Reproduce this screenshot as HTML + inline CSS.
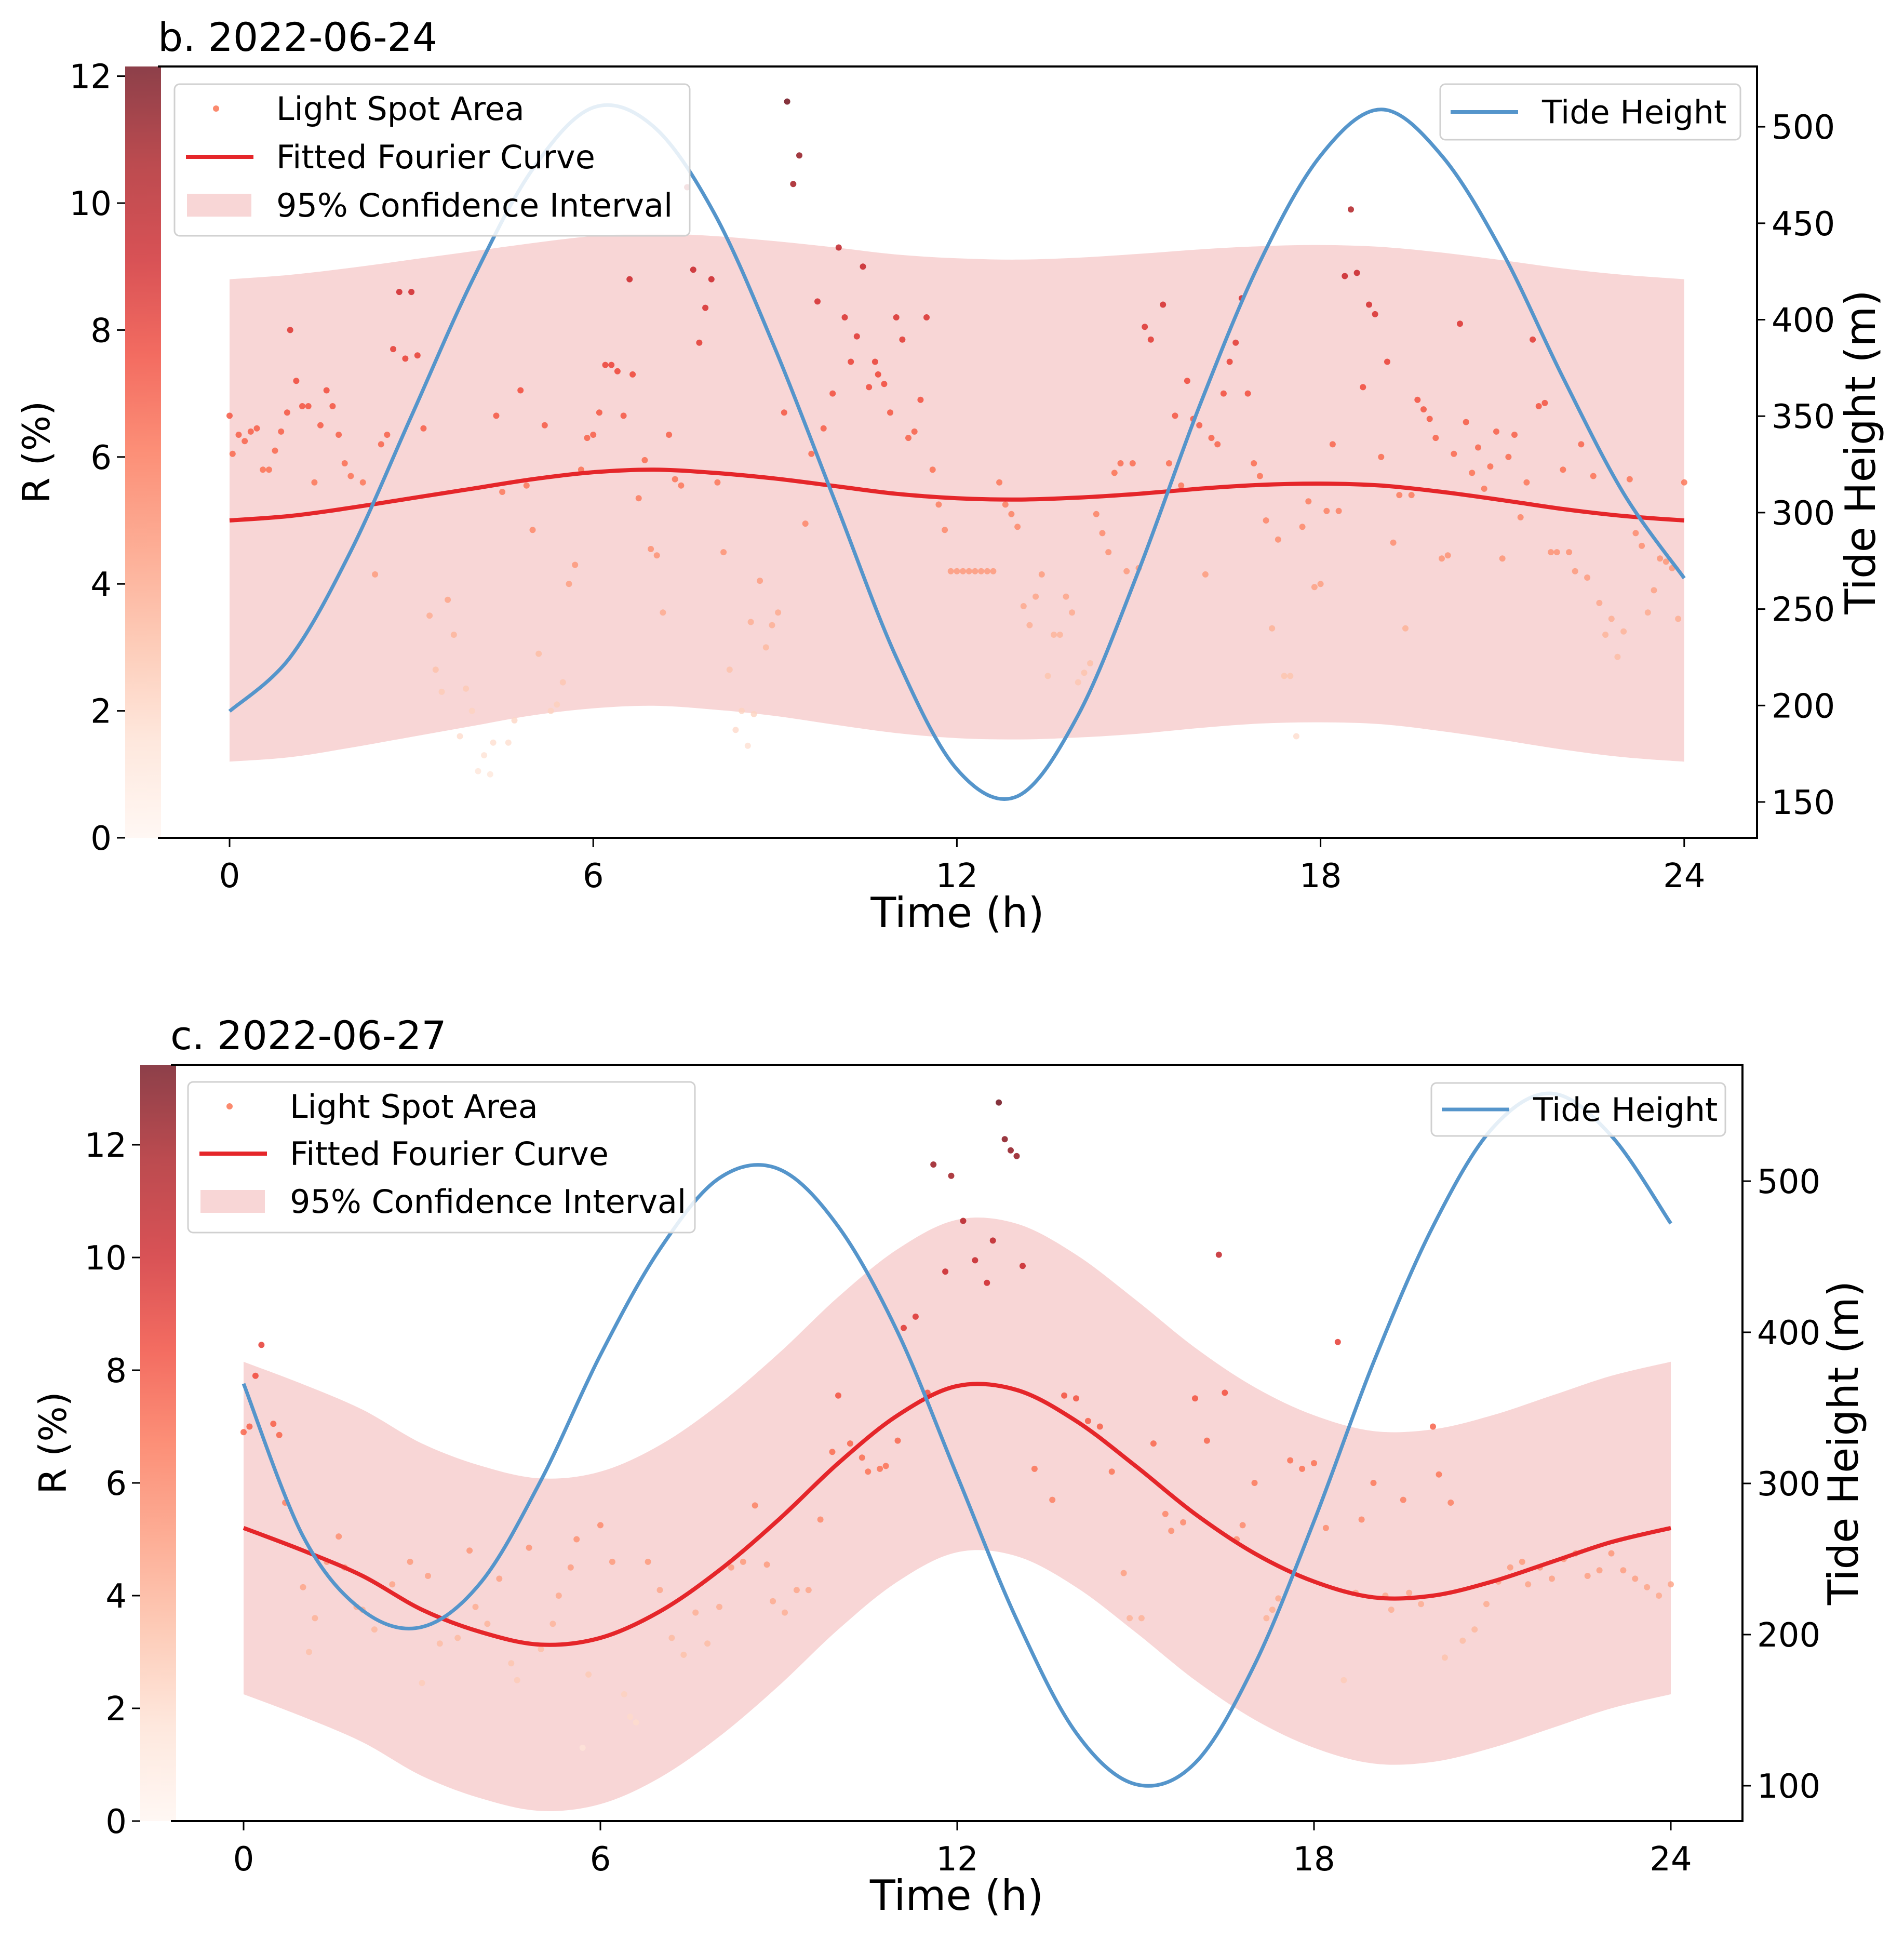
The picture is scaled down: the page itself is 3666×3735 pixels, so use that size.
<!DOCTYPE html>
<html><head><meta charset="utf-8"><title>Tide and light spot area</title>
<style>
html,body{margin:0;padding:0;background:#fff;}
svg text{font-family:"DejaVu Sans","Liberation Sans",sans-serif;fill:#000;}
</style></head>
<body>
<svg id="fig" xmlns="http://www.w3.org/2000/svg" width="3666" height="3730" viewBox="0 0 3666 3730">
<defs>
<linearGradient id="cbar" x1="0" y1="1" x2="0" y2="0">
<stop offset="0" stop-color="#fff5f0"/><stop offset="0.125" stop-color="#fee0d2"/>
<stop offset="0.25" stop-color="#fcbba1"/><stop offset="0.375" stop-color="#fc9272"/>
<stop offset="0.5" stop-color="#fb6a4a"/><stop offset="0.625" stop-color="#ef3b2c"/>
<stop offset="0.75" stop-color="#cb181d"/><stop offset="0.875" stop-color="#a50f15"/>
<stop offset="1" stop-color="#67000d"/>
</linearGradient>
</defs>
</svg>
<script>
// ---------- DATA: panel b (2022-06-24) ----------
const hoursB = [0,1,2,3,4,5,6,7,8,9,10,11,12,13,14,15,16,17,18,19,20,21,22,23,24];
const tideB = [197,225,280,350,420,478,510,500,455,385,305,225,167,153,195,270,355,430,485,509,485,435,370,310,266];
const fitB = [5.0,5.07,5.2,5.35,5.5,5.65,5.76,5.8,5.75,5.66,5.54,5.42,5.35,5.33,5.36,5.42,5.5,5.56,5.58,5.55,5.45,5.32,5.18,5.07,5.0];
const ciHalfB = [3.8,3.8,3.78,3.76,3.74,3.72,3.72,3.72,3.73,3.74,3.76,3.77,3.78,3.78,3.78,3.78,3.77,3.76,3.76,3.76,3.77,3.78,3.79,3.8,3.8];
const ptsTB = [0,0.05,0.15,0.25,0.35,0.45,0.55,0.65,0.75,0.85,0.95,1.0,1.1,1.2,1.3,1.4,1.5,1.6,1.7,1.8,1.9,2.0,2.2,2.4,2.5,2.6,2.7,2.8,2.9,3.0,3.1,3.2,3.3,3.4,3.5,3.6,3.7,3.8,3.9,4.0,4.1,4.2,4.3,4.35,4.4,4.5,4.6,4.7,4.8,4.9,5.0,5.1,5.2,5.3,5.4,5.5,5.6,5.7,5.8,5.9,6.0,6.1,6.2,6.3,6.4,6.5,6.6,6.65,6.75,6.85,6.95,7.05,7.15,7.25,7.35,7.45,7.55,7.65,7.75,7.85,7.95,8.05,8.15,8.25,8.35,8.45,8.55,8.6,8.65,8.75,8.85,8.95,9.05,9.15,9.2,9.3,9.4,9.5,9.6,9.7,9.8,9.95,10.05,10.15,10.25,10.35,10.45,10.55,10.65,10.7,10.8,10.9,11.0,11.1,11.2,11.3,11.4,11.5,11.6,11.7,11.8,11.9,12.0,12.1,12.2,12.3,12.4,12.5,12.6,12.7,12.8,12.9,13.0,13.1,13.2,13.3,13.4,13.5,13.6,13.7,13.8,13.9,14.0,14.1,14.2,14.3,14.4,14.5,14.6,14.7,14.8,14.9,15.0,15.1,15.2,15.4,15.5,15.6,15.7,15.8,15.9,16.0,16.1,16.2,16.3,16.4,16.5,16.6,16.7,16.8,16.9,17.0,17.1,17.2,17.3,17.4,17.5,17.6,17.7,17.8,17.9,18.0,18.1,18.2,18.3,18.4,18.5,18.6,18.7,18.8,18.9,19.0,19.1,19.2,19.3,19.4,19.5,19.6,19.7,19.8,19.9,20.0,20.1,20.2,20.3,20.4,20.5,20.6,20.7,20.8,20.9,21.0,21.1,21.2,21.3,21.4,21.5,21.6,21.7,21.8,21.9,22.0,22.1,22.2,22.3,22.4,22.5,22.6,22.7,22.8,22.9,23.0,23.1,23.2,23.3,23.4,23.5,23.6,23.7,23.8,23.9,24.0];
const ptsVB = [6.65,6.05,6.35,6.25,6.4,6.45,5.8,5.8,6.1,6.4,6.7,8.0,7.2,6.8,6.8,5.6,6.5,7.05,6.8,6.35,5.9,5.7,5.6,4.15,6.2,6.35,7.7,8.6,7.55,8.6,7.6,6.45,3.5,2.65,2.3,3.75,3.2,1.6,2.35,2.0,1.05,1.3,1.0,1.5,6.65,5.45,1.5,1.85,7.05,5.55,4.85,2.9,6.5,2.0,2.1,2.45,4.0,4.3,5.8,6.3,6.35,6.7,7.45,7.45,7.35,6.65,8.8,7.3,5.35,5.95,4.55,4.45,3.55,6.35,5.65,5.55,10.25,8.95,7.8,8.35,8.8,5.6,4.5,2.65,1.7,2.0,1.45,3.4,1.95,4.05,3.0,3.35,3.55,6.7,11.6,10.3,10.75,4.95,6.05,8.45,6.45,7.0,9.3,8.2,7.5,7.9,9.0,7.1,7.5,7.3,7.15,6.7,8.2,7.85,6.3,6.4,6.9,8.2,5.8,5.25,4.85,4.2,4.2,4.2,4.2,4.2,4.2,4.2,4.2,5.6,5.25,5.1,4.9,3.65,3.35,3.8,4.15,2.55,3.2,3.2,3.8,3.55,2.45,2.6,2.75,5.1,4.8,4.5,5.75,5.9,4.2,5.9,4.25,8.05,7.85,8.4,5.9,6.65,5.55,7.2,6.6,6.5,4.15,6.3,6.2,7.0,7.5,7.8,8.5,7.0,5.9,5.7,5.0,3.3,4.7,2.55,2.55,1.6,4.9,5.3,3.95,4.0,5.15,6.2,5.15,8.85,9.9,8.9,7.1,8.4,8.25,6.0,7.5,4.65,5.4,3.3,5.4,6.9,6.75,6.6,6.3,4.4,4.45,6.05,8.1,6.55,5.75,6.15,5.5,5.85,6.4,4.4,6.0,6.35,5.05,5.6,7.85,6.8,6.85,4.5,4.5,5.8,4.5,4.2,6.2,4.1,5.7,3.7,3.2,3.45,2.85,3.25,5.65,4.8,4.6,3.55,3.9,4.4,4.35,4.25,3.45,5.6];

// ---------- DATA: panel c (2022-06-27) ----------
const hoursC = [0,1,2,3,4,5,6,7,8,9,10,11,12,13,14,15,16,17,18,19,20,21,22,23,24];
const tideC = [366,265,216,205,235,302,385,455,502,508,470,400,305,210,135,101,115,180,275,380,470,535,558,530,472];
const fitC = [5.2,4.8,4.35,3.75,3.35,3.13,3.25,3.72,4.45,5.35,6.35,7.2,7.72,7.65,7.1,6.3,5.45,4.75,4.25,3.97,4.0,4.25,4.6,4.95,5.2];
const ciHalfC = [2.95,2.95,2.95,2.95,2.95,2.95,2.95,2.95,2.95,2.95,2.95,2.95,2.95,2.95,2.95,2.95,2.95,2.95,2.95,2.95,2.95,2.95,2.95,2.95,2.95];
const ptsTC = [0,0.1,0.2,0.3,0.5,0.6,0.7,1.0,1.1,1.2,1.4,1.6,1.7,1.9,2.0,2.2,2.5,2.8,3.0,3.1,3.3,3.4,3.6,3.8,3.9,4.1,4.3,4.5,4.6,4.8,5.0,5.2,5.3,5.5,5.6,5.7,5.8,6.0,6.2,6.4,6.5,6.6,6.8,7.0,7.2,7.4,7.6,7.8,8.0,8.2,8.4,8.6,8.8,8.9,9.1,9.3,9.5,9.7,9.9,10.0,10.2,10.4,10.5,10.7,10.8,11.0,11.1,11.3,11.5,11.6,11.8,11.9,12.1,12.3,12.5,12.6,12.7,12.8,12.9,13.0,13.1,13.3,13.6,13.8,14.0,14.2,14.4,14.6,14.8,14.9,15.1,15.3,15.5,15.6,15.8,16.0,16.2,16.4,16.5,16.7,16.8,17.0,17.2,17.3,17.4,17.6,17.8,18.0,18.2,18.4,18.5,18.7,18.8,19.0,19.2,19.3,19.5,19.6,19.8,20.0,20.1,20.2,20.3,20.5,20.7,20.9,21.1,21.3,21.5,21.6,21.8,22.0,22.2,22.4,22.6,22.8,23.0,23.2,23.4,23.6,23.8,24.0];
const ptsVC = [6.9,7.0,7.9,8.45,7.05,6.85,5.65,4.15,3.0,3.6,4.6,5.05,4.5,3.8,3.75,3.4,4.2,4.6,2.45,4.35,3.15,3.6,3.25,4.8,3.8,3.5,4.3,2.8,2.5,4.85,3.05,3.5,4.0,4.5,5.0,1.3,2.6,5.25,4.6,2.25,1.85,1.75,4.6,4.1,3.25,2.95,3.7,3.15,3.8,4.5,4.6,5.6,4.55,3.9,3.7,4.1,4.1,5.35,6.55,7.55,6.7,6.45,6.2,6.25,6.3,6.75,8.75,8.95,7.6,11.65,9.75,11.45,10.65,9.95,9.55,10.3,12.75,12.1,11.9,11.8,9.85,6.25,5.7,7.55,7.5,7.1,7.0,6.2,4.4,3.6,3.6,6.7,5.45,5.15,5.3,7.5,6.75,10.05,7.6,5.0,5.25,6.0,3.6,3.75,3.95,6.4,6.25,6.35,5.2,8.5,2.5,4.05,5.35,6.0,4.0,3.75,5.7,4.05,3.85,7.0,6.15,2.9,5.65,3.2,3.4,3.85,4.25,4.5,4.6,4.2,4.5,4.3,4.65,4.75,4.35,4.45,4.75,4.45,4.3,4.15,4.0,4.2];

// ---------- tick labels ----------
const xTicks = [0,6,12,18,24];
const rTicksB = [0,2,4,6,8,10,12];
const tideTicksB = [150,200,250,300,350,400,450,500];
const rTicksC = [0,2,4,6,8,10,12];
const tideTicksC = [100,200,300,400,500];

// ---------- rendering ----------
const NS = 'http://www.w3.org/2000/svg';
const svg = document.getElementById('fig');
function mk(tag, attrs, parent){ const e=document.createElementNS(NS,tag); for(const k in attrs) e.setAttribute(k,attrs[k]); (parent||svg).appendChild(e); return e; }
const stops=[[255,245,240],[254,224,210],[252,187,161],[252,146,114],[251,106,74],[239,59,44],[203,24,29],[165,15,21],[103,0,13]];
function reds(f){ f=Math.max(0,Math.min(1,f)); const p=f*8, i=Math.min(7,Math.floor(p)), r=p-i; const a=stops[i], b=stops[i+1]; return 'rgb('+a.map((v,k)=>Math.round(v+(b[k]-v)*r)).join(',')+')'; }
function smooth(pts){ let d='M'+pts[0][0].toFixed(1)+','+pts[0][1].toFixed(1);
  for(let i=0;i<pts.length-1;i++){ const p0=pts[Math.max(0,i-1)],p1=pts[i],p2=pts[i+1],p3=pts[Math.min(pts.length-1,i+2)];
    const c1=[p1[0]+(p2[0]-p0[0])/6,p1[1]+(p2[1]-p0[1])/6], c2=[p2[0]-(p3[0]-p1[0])/6,p2[1]-(p3[1]-p1[1])/6];
    d+='C'+c1.map(v=>v.toFixed(1))+' '+c2.map(v=>v.toFixed(1))+' '+p2[0].toFixed(1)+','+p2[1].toFixed(1);} return d; }

function panel(cfg){
  const g = mk('g',{});
  
  
  const X=t=>cfg.x0+t*cfg.xs, YR=v=>cfg.y0-v*cfg.ys, YT=m=>cfg.tY0-(m-cfg.tBase)*cfg.ts;
  const cb=mk('rect',{x:cfg.cbx,y:cfg.top,width:cfg.cbw,height:cfg.y0-cfg.top,fill:'url(#cbar)',opacity:0.75},g);
  
  
  const up=cfg.hours.map((h,i)=>[X(h),YR(cfg.fit[i]+cfg.ci[i])]);
  const lo=cfg.hours.map((h,i)=>[X(h),YR(cfg.fit[i]-cfg.ci[i])]).reverse();
  const band=mk('path',{d:smooth(up)+'L'+smooth(lo).slice(1)+'Z',fill:'#f8d6d6',stroke:'none'},g);
  
  
  const vmax=Math.max(...cfg.pv);
  cfg.pt.forEach((t,i)=>{ const v=cfg.pv[i];
    const c=mk('circle',{cx:X(t).toFixed(1),cy:YR(v).toFixed(1),r:6,fill:reds(v/vmax),'fill-opacity':0.8},g);
    
     });
  const fl=mk('path',{d:smooth(cfg.hours.map((h,i)=>[X(h),YR(cfg.fit[i])])),fill:'none',stroke:'#e5262a','stroke-width':8},g);
  
  
  const tl=mk('path',{d:smooth(cfg.hours.map((h,i)=>[X(h),YT(cfg.tide[i])])),fill:'none',stroke:'#5595cb','stroke-width':7},g);
  
  
  const sp=mk('path',{d:`M${cfg.left},${cfg.top}H${cfg.right}V${cfg.y0}H${cfg.left}`,fill:'none',stroke:'#000','stroke-width':4},g);
  
  
  xTicks.forEach(t=>{ mk('line',{x1:X(t),x2:X(t),y1:cfg.y0,y2:cfg.y0+18,stroke:'#000','stroke-width':3},g);
    const tx=mk('text',{x:X(t),y:cfg.y0+95,'font-size':64,'text-anchor':'middle'},g); tx.textContent=t;
    
     });
  cfg.rTicks.forEach(v=>{ mk('line',{x1:cfg.cbx-16,x2:cfg.cbx,y1:YR(v),y2:YR(v),stroke:'#000','stroke-width':3},g);
    const tx=mk('text',{x:cfg.cbx-26,y:YR(v)+23,'font-size':64,'text-anchor':'end'},g); tx.textContent=v;
    
     });
  cfg.tTicks.forEach(m=>{ mk('line',{x1:cfg.right,x2:cfg.right+16,y1:YT(m),y2:YT(m),stroke:'#000','stroke-width':3},g);
    const tx=mk('text',{x:cfg.right+28,y:YT(m)+23,'font-size':64},g); tx.textContent=m;
    
     });
  let t=mk('text',{x:(cfg.left+cfg.right)/2,y:cfg.xlabY,'font-size':80,'text-anchor':'middle'},g); t.textContent='Time (h)';
  
  
  t=mk('text',{x:0,y:0,'font-size':72,'text-anchor':'middle',transform:`translate(${cfg.rlabX},${(cfg.top+cfg.y0)/2}) rotate(-90)`},g); t.textContent='R (%)';
  
  
  t=mk('text',{x:0,y:0,'font-size':80,'text-anchor':'middle',transform:`translate(${cfg.tlabX},${(cfg.top+cfg.y0)/2}) rotate(-90)`},g); t.textContent='Tide Height (m)';
  
  
  t=mk('text',{x:cfg.titleX,y:cfg.titleY,'font-size':76},g); t.textContent=cfg.title;
  
  
  const L=cfg.leg;
  const lb=mk('rect',{x:L.x,y:L.y,width:L.w,height:L.h,rx:10,fill:'#fff','fill-opacity':0.85,stroke:'#d0d0d0','stroke-width':3},g);
  
  
  mk('circle',{cx:L.x+80,cy:L.rows[0],r:6,fill:'#fb8a6e'},g);
  mk('line',{x1:L.x+22,x2:L.x+152,y1:L.rows[1],y2:L.rows[1],stroke:'#e5262a','stroke-width':8},g);
  mk('rect',{x:L.x+24,y:L.rows[2]-22,width:124,height:44,fill:'#f8d6d6'},g);
  ['Light Spot Area','Fitted Fourier Curve','95% Confidence Interval'].forEach((s,i)=>{
    const e=mk('text',{x:L.x+196,y:L.rows[i]+22,'font-size':62},g); e.textContent=s;
    
     });
  const R=cfg.leg2;
  const rb=mk('rect',{x:R.x,y:R.y,width:R.w,height:R.h,rx:10,fill:'#fff','fill-opacity':0.85,stroke:'#d0d0d0','stroke-width':3},g);
  
  
  mk('line',{x1:R.x+20,x2:R.x+150,y1:R.y+R.h/2,y2:R.y+R.h/2,stroke:'#5595cb','stroke-width':7},g);
  const te=mk('text',{x:R.x+196,y:R.y+R.h/2+22,'font-size':62},g); te.textContent='Tide Height';
  
  
}

panel({name:'panel-b',title:'b. 2022-06-24',titleX:304,titleY:98,
  hours:hoursB,tide:tideB,fit:fitB,ci:ciHalfB,pt:ptsTB,pv:ptsVB,rTicks:rTicksB,tTicks:tideTicksB,
  x0:442,xs:116.7,y0:1613,ys:122.2,tY0:1544,tBase:150,ts:3.714,
  left:304,right:3383,top:128,cbx:241,cbw:69,
  xlabY:1785,rlabX:95,tlabX:3610,
  leg:{x:336,y:162,w:992,h:292,rows:[209,302,395]},
  leg2:{x:2773,y:162,w:578,h:107}});
panel({name:'panel-c',title:'c. 2022-06-27',titleX:328,titleY:2020,
  hours:hoursC,tide:tideC,fit:fitC,ci:ciHalfC,pt:ptsTC,pv:ptsVC,rTicks:rTicksC,tTicks:tideTicksC,
  x0:469,xs:114.5,y0:3506,ys:108.5,tY0:3438,tBase:100,ts:2.91,
  left:329,right:3355,top:2050,cbx:270,cbw:69,
  xlabY:3677,rlabX:127,tlabX:3577,
  leg:{x:362,y:2083,w:976,h:290,rows:[2130,2221,2313]},
  leg2:{x:2756,y:2085,w:566,h:102}});
</script>
</body></html>
